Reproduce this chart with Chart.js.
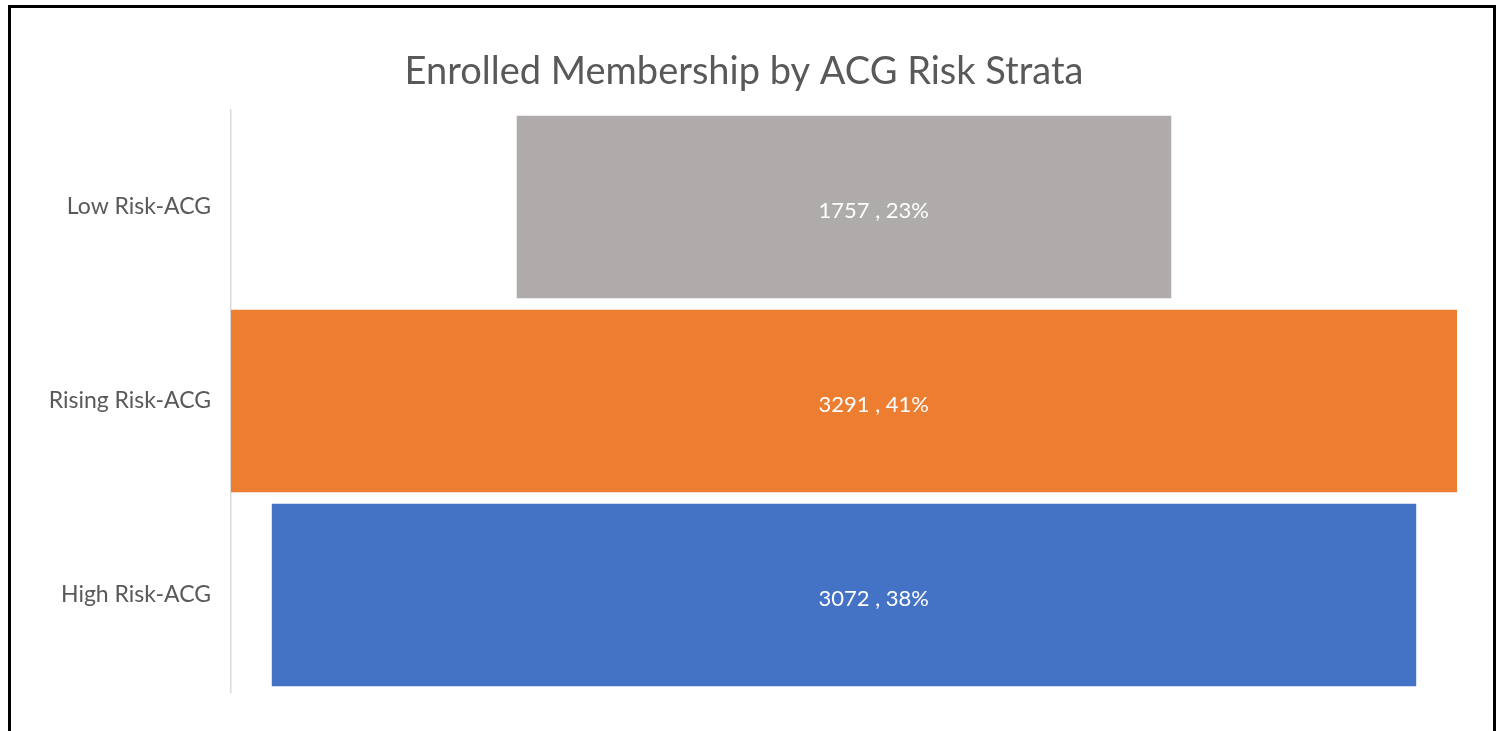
<!DOCTYPE html>
<html>
<head>
<meta charset="utf-8">
<script src="https://cdn.jsdelivr.net/npm/chart.js@4/dist/chart.umd.min.js"></script>
<style>
  html, body { margin: 0; padding: 0; background: #ffffff; width: 1501px; height: 731px; overflow: hidden; }
  #frame { position: absolute; left: 8px; top: 5px; width: 1482px; height: 760px; border: 3px solid #000; box-sizing: content-box; }
  #wrap { position: absolute; left: 0; top: 0; width: 1501px; height: 731px; }
</style>
</head>
<body>
<div id="frame"></div>
<div id="wrap"><canvas id="c" width="1501" height="731"></canvas></div>
<script>
const categories = ['Low Risk-ACG', 'Rising Risk-ACG', 'High Risk-ACG'];
const members = [1757, 3291, 3072];
const percents = [23, 41, 38];
const barColors = ['#AFABAB', '#ED7D31', '#4472C4'];
const chartTitle = 'Enrolled Membership by ACG Risk Strata';

const maxVal = Math.max(...members);
const funnelData = members.map(v => [-v / 2, v / 2]);

const labelPlugin = {
  id: 'funnelLabels',
  afterDatasetsDraw(chart) {
    const ctx = chart.ctx;
    const meta = chart.getDatasetMeta(0);
    ctx.save();
    ctx.font = '22px Lato, "Open Sans", sans-serif';
    ctx.fillStyle = '#ffffff';
    ctx.textBaseline = 'middle';
    meta.data.forEach((bar, i) => {
      const cx = (bar.x + bar.base) / 2;
      const y = bar.y + 4;
      const num = String(members[i]);
      const w = ctx.measureText(num).width;
      ctx.textAlign = 'left';
      ctx.fillText(num, cx - w / 2, y);
      ctx.fillText(' , ' + percents[i] + '%', cx + w / 2, y);
    });
    ctx.restore();
  }
};

new Chart(document.getElementById('c'), {
  type: 'bar',
  data: {
    labels: categories,
    datasets: [{
      data: funnelData,
      backgroundColor: barColors,
      borderWidth: 0,
      barPercentage: 0.94,
      categoryPercentage: 1.0
    }]
  },
  options: {
    indexAxis: 'y',
    responsive: false,
    animation: false,
    layout: { padding: { left: 31, right: 44, top: 20, bottom: 39 } },
    plugins: {
      legend: { display: false },
      tooltip: { enabled: false },
      title: {
        display: true,
        text: chartTitle,
        color: '#595959',
        font: { family: 'Lato, "Open Sans", sans-serif', size: 38, weight: 'normal' },
        padding: { top: 29.2, bottom: 15.2 }
      }
    },
    scales: {
      x: {
        display: false,
        min: -maxVal / 2,
        max: maxVal / 2
      },
      y: {
        afterFit(scale) { scale.width = 200; },
        grid: { display: false, drawTicks: false },
        border: { display: true, color: '#D9D9D9', width: 1.5 },
        ticks: {
          color: '#595959',
          padding: 20,
          font: { family: 'Lato, "Open Sans", sans-serif', size: 23 }
        }
      }
    }
  },
  plugins: [labelPlugin]
});
</script>
</body>
</html>
